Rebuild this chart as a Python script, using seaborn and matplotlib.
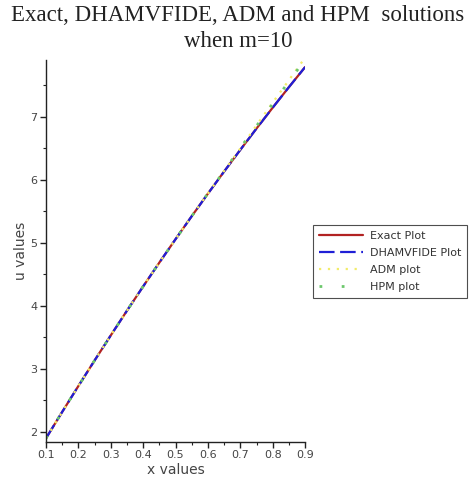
import numpy as np
import pandas as pd
import matplotlib
matplotlib.use("Agg")
import matplotlib.pyplot as plt
import seaborn as sns

# ---- data ----
x_vals = [0.10, 0.15, 0.20, 0.25, 0.30, 0.35, 0.40, 0.45, 0.50,
          0.55, 0.60, 0.65, 0.70, 0.75, 0.80, 0.85, 0.90]
exact_u = [1.900, 2.318, 2.729, 3.134, 3.532, 3.924, 4.309, 4.687, 5.058,
           5.423, 5.781, 6.132, 6.476, 6.814, 7.145, 7.470, 7.788]
dham_u = [1.900, 2.318, 2.729, 3.134, 3.532, 3.924, 4.309, 4.687, 5.058,
          5.423, 5.781, 6.132, 6.476, 6.814, 7.145, 7.470, 7.788]
adm_u = [1.900, 2.318, 2.729, 3.134, 3.532, 3.924, 4.309, 4.687, 5.058,
         5.423, 5.785, 6.140, 6.496, 6.864, 7.225, 7.580, 7.938]
hpm_u = [1.900, 2.318, 2.729, 3.134, 3.532, 3.924, 4.309, 4.687, 5.058,
         5.423, 5.785, 6.140, 6.506, 6.854, 7.205, 7.560, 7.908]
series_names = ["Exact Plot", "DHAMVFIDE Plot", "ADM plot", "HPM plot"]
x_ticks = [0.1, 0.2, 0.3, 0.4, 0.5, 0.6, 0.7, 0.8, 0.9]
y_ticks = [2, 3, 4, 5, 6, 7]

sns.set_style("white")
plt.rcParams['font.family'] = ['DejaVu Sans']

fig = plt.figure(figsize=(4.76, 4.80), dpi=100)
ax = fig.add_axes([0.0966, 0.079, 0.5444, 0.796])

df = pd.DataFrame({"x": x_vals, "exact": exact_u, "dham": dham_u,
                   "adm": adm_u, "hpm": hpm_u})

sns.lineplot(data=df, x="x", y="exact", ax=ax, color="#b22222", lw=1.6,
             label=series_names[0])
sns.lineplot(data=df, x="x", y="dham", ax=ax, color="#1f1fd6", lw=1.6,
             label=series_names[1])
ax.lines[-1].set_dashes((7, 2.5))
sns.lineplot(data=df, x="x", y="adm", ax=ax, color="#f2ec6a", lw=1.6,
             label=series_names[2])
ax.lines[-1].set_dashes((1, 3))
sns.lineplot(data=df, x="x", y="hpm", ax=ax, color="#6cc86c", lw=2.0,
             label=series_names[3])
ax.lines[-1].set_dashes((1, 7))

ax.set_xlim(0.1, 0.9)
ax.set_ylim(1.84, 7.9)
ax.set_xticks(x_ticks)
ax.set_yticks(y_ticks)
ax.set_xticks(np.arange(0.15, 0.9, 0.1), minor=True)
ax.set_yticks([2.5, 3.5, 4.5, 5.5, 6.5, 7.5], minor=True)
ax.set_xticklabels([f"{t:.1f}" for t in x_ticks])
ax.set_yticklabels([str(t) for t in y_ticks])

for s in ["top", "right"]:
    ax.spines[s].set_visible(False)
for s in ["left", "bottom"]:
    ax.spines[s].set_color("#222222")
    ax.spines[s].set_linewidth(1.0)

ax.tick_params(axis="both", which="major", direction="out", length=4,
               width=1, color="#222222", labelsize=8, labelcolor="#444444",
               left=True, bottom=True, pad=2)
ax.tick_params(axis="both", which="minor", direction="out", length=2,
               width=0.8, color="#222222", left=True, bottom=True)

ax.set_xlabel("x values", fontsize=10, color="#444444", labelpad=2)
ax.set_ylabel("u values", fontsize=10, color="#444444", labelpad=2)

fig.suptitle("Exact, DHAMVFIDE, ADM and HPM  solutions\nwhen m=10",
             x=0.5, y=0.99, fontsize=16.5, family="Liberation Serif",
             color="#222222", linespacing=1.3)

leg = ax.legend(loc="upper left", bbox_to_anchor=(0.658, 0.531),
                bbox_transform=fig.transFigure, fontsize=8,
                frameon=True, fancybox=False, handlelength=4.0,
                handletextpad=0.6, borderpad=0.5, labelspacing=0.65,
                borderaxespad=0)
leg.get_frame().set_edgecolor("#222222")
leg.get_frame().set_linewidth(0.8)
for t in leg.get_texts():
    t.set_color("#333333")

fig.savefig("out.png", dpi=100)
